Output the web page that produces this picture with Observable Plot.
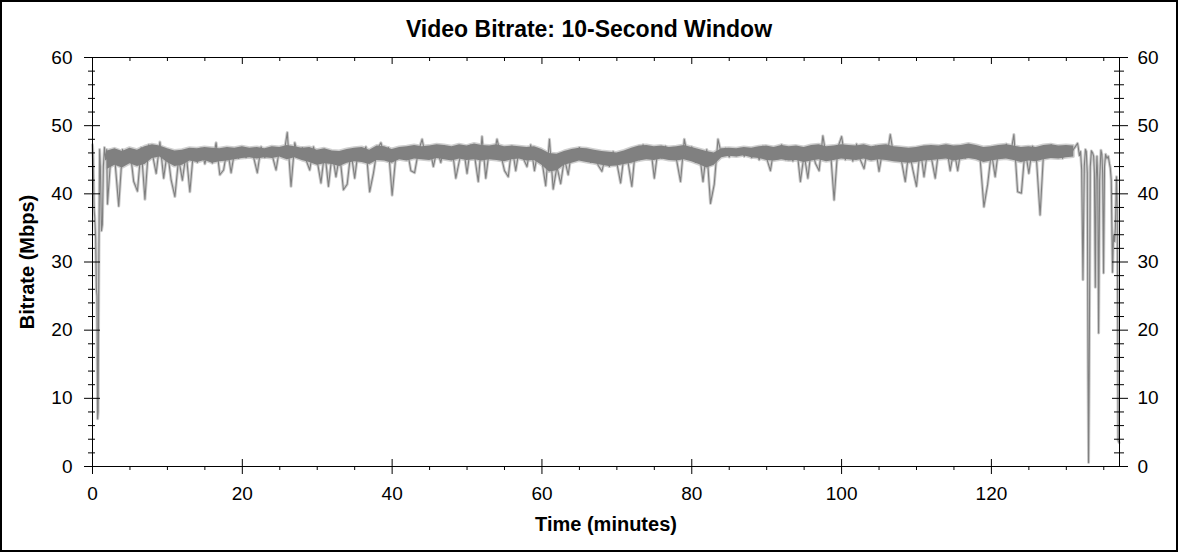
<!DOCTYPE html>
<html><head><meta charset="utf-8">
<script src="https://cdn.jsdelivr.net/npm/d3@7"></script>
<script src="https://cdn.jsdelivr.net/npm/@observablehq/plot@0.6"></script>
<style>
html,body{margin:0;padding:0;background:#fff;}
#frame{box-sizing:border-box;width:1178px;height:552px;border:2px solid #000;background:#fff;overflow:hidden;font-family:"Liberation Sans",Arial,sans-serif;}
#title{height:26px;padding-top:14px;line-height:26px;text-align:center;font-weight:bold;font-size:23px;color:#000;}
#chart svg{display:block;}
</style>
</head><body>
<div id="frame"><div id="title">Video Bitrate: 10-Second Window</div><div id="chart"></div></div>
<script>
// ---- data (minutes, Mbps) ----
const headMinutes = [0, 0.1, 0.2, 0.3, 0.42, 0.52, 0.6, 0.68, 0.75, 0.85, 0.95, 1.05, 1.2, 1.32, 1.45, 1.6, 1.75, 1.9];
const headMbps    = [47.2, 45, 38, 36.5, 33.5, 26, 25, 7, 8, 30, 46.5, 44, 34.6, 35.5, 44, 46.8, 45, 46.5];

const bodyStart = 2;     // minutes
const bodyStep = 0.5;    // minutes between samples
const bodyMbps = [
  38.5, 46.2, 44.8, 38.2, 46.5, 45.2, 46.6, 41.8, 40.4, 46.8,
  39.2, 47.2, 45.8, 43.0, 47.6, 42.3, 46.3, 42.0, 39.6, 45.2,
  42.0, 46.0, 40.3, 46.6, 44.6, 46.7, 44.4, 46.5, 44.5, 47.5,
  42.8, 43.5, 46.7, 43.1, 46.4, 45.2, 46.8, 45.3, 46.6, 45.4,
  43.1, 46.9, 45.3, 46.5, 45.6, 43.5, 46.8, 45.4, 49.0, 41.1,
  47.5, 45.4, 46.8, 45.0, 43.5, 46.9, 44.8, 41.6, 46.3, 41.1,
  46.0, 42.5, 45.8, 40.6, 41.4, 46.3, 42.3, 46.6, 45.8, 46.9,
  40.3, 43.0, 46.5, 47.5, 45.5, 46.8, 39.8, 45.6, 46.7, 45.4,
  46.6, 43.4, 43.1, 46.2, 48.0, 45.3, 46.8, 44.0, 46.5, 44.6,
  47.0, 45.4, 46.8, 42.3, 45.0, 46.9, 43.0, 47.2, 45.6, 41.8,
  48.4, 42.3, 46.7, 45.2, 48.0, 45.8, 43.4, 42.5, 47.0, 43.4,
  46.8, 45.2, 44.0, 47.2, 43.4, 46.5, 44.8, 41.2, 48.0, 40.7,
  44.0, 41.5, 45.2, 42.8, 46.5, 45.0, 46.8, 45.2, 46.4, 44.6,
  46.0, 44.2, 43.3, 45.6, 44.0, 46.2, 44.5, 41.6, 46.0, 44.6,
  41.1, 46.8, 45.0, 47.2, 45.4, 46.9, 42.3, 46.6, 45.2, 47.0,
  45.5, 46.8, 44.8, 41.8, 48.0, 45.4, 46.9, 44.6, 46.2, 41.8,
  46.5, 38.6, 41.4, 48.0, 45.6, 46.7, 45.4, 46.5, 45.6, 46.6,
  45.5, 46.4, 45.3, 46.8, 45.0, 47.0, 45.2, 43.4, 46.8, 45.1,
  47.2, 45.0, 46.6, 44.8, 46.9, 41.8, 45.8, 42.3, 47.0, 44.5,
  43.4, 48.5, 45.2, 46.6, 39.1, 46.8, 48.4, 45.0, 46.9, 44.8,
  47.3, 45.0, 43.7, 46.8, 45.2, 47.0, 43.3, 46.5, 45.1, 48.7,
  45.3, 46.6, 44.8, 41.8, 46.5, 43.6, 41.1, 46.8, 42.5, 46.5,
  45.2, 42.3, 46.8, 45.3, 47.0, 43.4, 46.5, 43.4, 46.9, 45.2,
  47.2, 45.4, 46.6, 45.0, 38.1, 41.4, 46.2, 42.5, 47.0, 45.3,
  47.3, 45.4, 48.7, 40.3, 40.1, 46.6, 43.0, 47.0, 45.3, 36.9,
  46.8, 45.4, 47.2, 45.6, 46.8, 45.2, 47.0, 45.6, 46.6, 47.4
];

// dense noise band (lower / upper edge), one pair per minute from minute 2 to 131
const bandStart = 2;
const bandLow = [
  43.6, 44.2, 43.8, 44.4, 44.0, 44.3, 45.2, 45.4, 44.6, 44.0,
  44.2, 44.8, 44.6, 44.9, 44.5, 44.7, 44.8, 45.0, 45.2, 45.3,
  45.1, 45.3, 45.2, 45.4, 45.0, 45.3, 44.9, 44.6, 44.2, 44.4,
  44.3, 44.0, 44.5, 44.7, 44.6, 44.3, 44.9, 44.8, 44.5, 45.0,
  44.8, 45.1, 45.0, 44.9, 45.2, 45.0, 44.8, 45.1, 44.9, 45.0,
  44.8, 45.0, 44.9, 44.7, 45.0, 45.1, 44.8, 44.9, 44.2, 43.2,
  43.4, 44.2, 44.5, 44.8, 44.6, 44.4, 44.2, 44.0, 44.1, 44.3,
  44.5, 44.8, 45.0, 44.9, 45.1, 44.9, 44.8, 45.0, 44.7, 44.3,
  43.8, 44.2, 45.3, 45.5, 45.4, 45.6, 45.3, 45.2, 44.9, 44.8,
  45.0, 44.8, 44.9, 44.6, 44.8, 45.0, 44.7, 44.9, 45.1, 45.0,
  44.9, 45.1, 44.8, 45.0, 44.9, 44.7, 44.6, 44.5, 44.6, 44.8,
  44.9, 45.0, 45.1, 44.8, 45.0, 45.2, 45.0, 44.6, 44.8, 45.0,
  45.1, 44.9, 44.6, 44.8, 44.7, 45.0, 45.2, 45.1, 45.3, 45.4
];
const bandHigh = [
  46.3, 46.6, 46.2, 46.7, 46.4, 46.9, 47.2, 47.0, 46.6, 46.3,
  46.4, 46.7, 46.6, 46.8, 46.7, 46.6, 46.8, 46.7, 46.9, 46.7,
  46.8, 46.6, 46.9, 46.8, 47.1, 46.9, 46.7, 46.8, 46.4, 46.6,
  46.3, 46.2, 46.5, 46.7, 46.8, 46.4, 47.0, 46.9, 46.5, 46.8,
  46.9, 47.1, 46.9, 47.0, 47.2, 47.1, 46.9, 47.2, 47.0, 47.3,
  47.1, 47.0, 47.2, 46.9, 47.0, 46.9, 46.8, 46.9, 46.5, 45.9,
  45.8, 46.2, 46.5, 46.7, 46.6, 46.4, 46.2, 46.1, 46.0, 46.3,
  46.7, 47.0, 47.1, 46.9, 47.0, 46.8, 46.9, 47.1, 46.8, 46.5,
  46.2, 46.0, 46.6, 46.7, 46.6, 46.8, 46.7, 46.9, 47.0, 46.8,
  47.1, 46.9, 47.0, 46.8, 47.1, 47.2, 46.9, 47.0, 47.2, 47.1,
  47.0, 47.2, 46.9, 47.1, 47.2, 46.9, 46.8, 46.7, 46.8, 47.0,
  47.1, 47.0, 47.2, 47.0, 47.1, 47.3, 47.1, 46.8, 46.9, 47.1,
  47.2, 47.0, 46.8, 46.9, 46.8, 47.1, 47.2, 47.0, 47.1, 47.0
];

const tailMinutes = [131.6, 131.75, 131.9, 132.05, 132.22, 132.4, 132.55, 132.67, 132.8, 132.9,
  132.97, 133.05, 133.2, 133.35, 133.51, 133.65, 133.75, 133.87, 133.98, 134.09,
  134.2, 134.31, 134.45, 134.62, 134.75, 134.85, 134.97, 135.1, 135.25, 135.42,
  135.6, 135.75, 135.87, 136.0, 136.17, 136.3, 136.44, 136.55, 136.7, 136.8,
  136.92, 137.05];
const tailMbps = [46.8, 45.6, 46.2, 43.5, 27.4, 44, 46.5, 46.2, 43, 14,
  0.6, 13, 44, 46.3, 46, 45.5, 43, 26.3, 42, 45.5,
  42, 19.6, 42, 46.4, 45.8, 43, 28.4, 44, 45.8, 45.2,
  45.5, 44.5, 43.8, 42, 28.5, 34, 33, 35, 42.5, 38,
  3.8, 3.5];

const xMajorTicks = [0, 20, 40, 60, 80, 100, 120];
const xMinorTicks = [5, 10, 15, 25, 30, 35, 45, 50, 55, 65, 70, 75, 85, 90, 95, 105, 110, 115, 125, 130, 135];
const yMajorTicks = [0, 10, 20, 30, 40, 50, 60];
const yMinorTicks = [2, 4, 6, 8, 12, 14, 16, 18, 22, 24, 26, 28, 32, 34, 36, 38, 42, 44, 46, 48, 52, 54, 56, 58];
const xLabel = "Time (minutes)";
const yLabel = "Bitrate (Mbps)";

// ---- build tables ----
const series = [];
headMinutes.forEach((t, i) => series.push({t, v: headMbps[i]}));
bodyMbps.forEach((v, i) => series.push({t: bodyStart + i * bodyStep, v}));
tailMinutes.forEach((t, i) => series.push({t, v: tailMbps[i]}));
const band = bandLow.map((lo, i) => ({t: bandStart + i, lo, hi: bandHigh[i]}));

const W = 1174, H = 508, mT = 15, mB = 84, mL = 90, mR = 57;
const fW = W - mL - mR, fH = H - mT - mB;
const blank = () => "";

const chart = Plot.plot({
  width: W, height: H,
  marginTop: mT, marginBottom: mB, marginLeft: mL, marginRight: mR,
  style: {fontFamily: '"Liberation Sans", Arial, sans-serif', fontSize: "19px", background: "white", color: "black", overflow: "visible"},
  x: {domain: [0, 137.1], label: null},
  y: {domain: [0, 60], label: null},
  marks: [
    Plot.areaY(band, {x: "t", y1: "lo", y2: "hi", fill: "#d0d0d0", stroke: "#d0d0d0", strokeWidth: 3}),
    Plot.line(series, {x: "t", y: "v", stroke: "#cccccc", strokeWidth: 3}),
    Plot.areaY(band, {x: "t", y1: "lo", y2: "hi", fill: "#808080"}),
    Plot.line(series, {x: "t", y: "v", stroke: "#808080", strokeWidth: 1.1}),
    Plot.frame({stroke: "black"}),
    // outward ticks + labels
    Plot.axisX(xMajorTicks, {anchor: "bottom", tickSize: 8, tickPadding: 12, label: null, fontSize: 19}),
    Plot.axisX(xMinorTicks, {anchor: "bottom", tickSize: 4, tickFormat: blank, label: null}),
    Plot.axisY(yMajorTicks, {anchor: "left", tickSize: 8, tickPadding: 12, label: null, fontSize: 19}),
    Plot.axisY(yMinorTicks, {anchor: "left", tickSize: 4, tickFormat: blank, label: null}),
    Plot.axisY(yMajorTicks, {anchor: "right", tickSize: 8, tickPadding: 10, label: null, fontSize: 19}),
    Plot.axisY(yMinorTicks, {anchor: "right", tickSize: 4, tickFormat: blank, label: null}),
    // inward ticks
    Plot.tickX(xMajorTicks, {x: d => d, insetTop: fH - 7, stroke: "black"}),
    Plot.tickX(xMajorTicks, {x: d => d, insetBottom: fH - 7, stroke: "black"}),
    Plot.tickX(xMinorTicks, {x: d => d, insetBottom: fH - 4, stroke: "black"}),
    Plot.tickY(yMajorTicks, {y: d => d, insetRight: fW - 8, stroke: "black"}),
    Plot.tickY(yMinorTicks, {y: d => d, insetRight: fW - 3, stroke: "black"}),
    Plot.tickY(yMajorTicks, {y: d => d, insetLeft: fW - 7, stroke: "black"}),
    Plot.tickY(yMinorTicks, {y: d => d, insetLeft: fW - 5, stroke: "black"}),
    // axis titles
    Plot.text([xLabel], {text: d => d, frameAnchor: "bottom", dy: 58, lineAnchor: "middle", textAnchor: "middle", fontSize: 20, fontWeight: "bold", fill: "black"}),
    Plot.text([yLabel], {text: d => d, frameAnchor: "left", dx: -65, rotate: -90, lineAnchor: "middle", textAnchor: "middle", fontSize: 20, fontWeight: "bold", fill: "black"})
  ]
});
document.getElementById("chart").appendChild(chart);
</script>
</body></html>
